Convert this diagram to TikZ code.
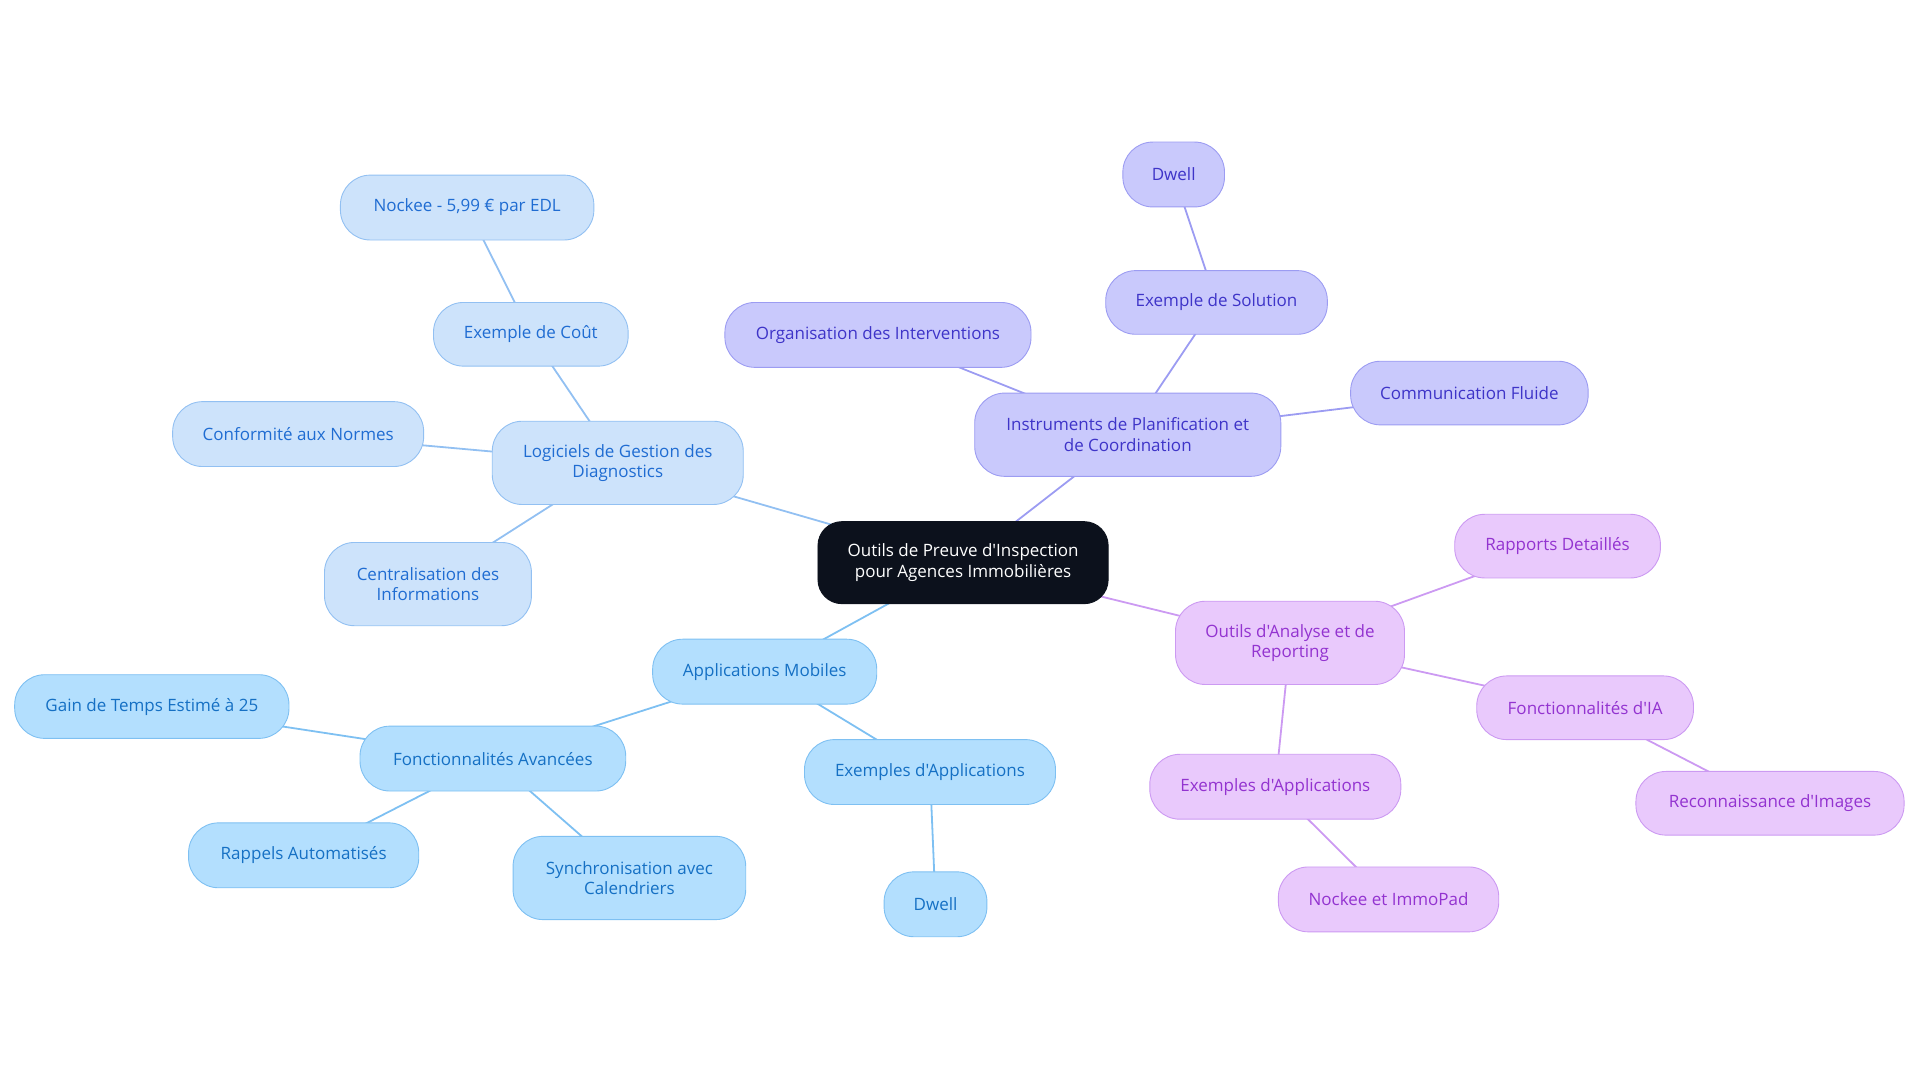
\documentclass[tikz,border=0pt]{standalone}
\usepackage{fontspec}
\setmainfont{Open Sans}[Ligatures=TeXOff]
\usetikzlibrary{backgrounds}
\begin{document}
\begin{tikzpicture}[x=1.2245pt,y=-1.2245pt,
  base/.style={rounded corners=30pt, draw, line width=0.9pt, align=center, inner sep=0pt, font=\fontsize{17}{20.5}\selectfont},
  sz/.style 2 args={minimum width=#1*1.2245pt, minimum height=#2*1.2245pt},
  root/.style={base, fill=rootc, draw=rootc, text=white, rounded corners=24pt},
  lb/.style={base, fill=lbfill, draw=lbline, text=lbtext},
  ab/.style={base, fill=abfill, draw=abline, text=abtext},
  pb/.style={base, fill=pbfill, draw=pbline, text=pbtext},
  pu/.style={base, fill=pufill, draw=puline, text=putext},
  lbe/.style={draw=lbline, line width=1.8pt},
  abe/.style={draw=abline, line width=1.8pt},
  pbe/.style={draw=pbline, line width=1.8pt},
  pue/.style={draw=puline, line width=1.8pt}]
\definecolor{rootc}{HTML}{0C111C}
\definecolor{lbfill}{HTML}{CDE3FB}
\definecolor{lbline}{HTML}{92C0F2}
\definecolor{lbtext}{HTML}{1F6CD2}
\definecolor{abfill}{HTML}{B3DFFE}
\definecolor{abline}{HTML}{7EC0F2}
\definecolor{abtext}{HTML}{1570C4}
\definecolor{pbfill}{HTML}{C9C9FC}
\definecolor{pbline}{HTML}{9C9CF2}
\definecolor{pbtext}{HTML}{3E34C8}
\definecolor{pufill}{HTML}{E9C9FC}
\definecolor{puline}{HTML}{CC9AF2}
\definecolor{putext}{HTML}{9333D0}
\path[use as bounding box] (0,0) rectangle (1568,884);

\node[root, sz={237}{67}] (r) at (786.5,459.5) {Outils de Preuve d'Inspection\\pour Agences Immobilières};

\node[lb, sz={205}{68}] (log) at (504.5,378) {Logiciels de Gestion des\\Diagnostics};
\node[lb, sz={159}{52}] (cout) at (433.5,273) {Exemple de Coût};
\node[lb, sz={207}{53}] (nock) at (381.5,169.5) {Nockee - 5,99 € par EDL};
\node[lb, sz={205}{53}] (conf) at (243.5,354.5) {Conformité aux Normes};
\node[lb, sz={169}{68}] (cent) at (349.5,477) {Centralisation des\\Informations};

\node[pb, sz={250}{68}] (inst) at (921,355) {Instruments de Planification et\\de Coordination};
\node[pb, sz={250}{53}] (org) at (717,273.5) {Organisation des Interventions};
\node[pb, sz={181}{52}] (sol) at (993.5,247) {Exemple de Solution};
\node[pb, sz={83}{53}] (dw1) at (958.5,142.5) {Dwell};
\node[pb, sz={194}{52}] (comm) at (1200,321) {Communication Fluide};

\node[pu, sz={187}{68}] (ana) at (1053.5,525) {Outils d'Analyse et de\\Reporting};
\node[pu, sz={168}{52}] (rap) at (1272,446) {Rapports Detaillés};
\node[pu, sz={177}{52}] (ia) at (1294.5,578) {Fonctionnalités d'IA};
\node[pu, sz={219}{52}] (rec) at (1445.5,656) {Reconnaissance d'Images};
\node[pu, sz={205}{53}] (exa) at (1041.5,642.5) {Exemples d'Applications};
\node[pu, sz={180}{53}] (imm) at (1134,734.5) {Nockee et ImmoPad};

\node[ab, sz={183}{53}] (app) at (624.5,548.5) {Applications Mobiles};
\node[ab, sz={217}{53}] (fav) at (402.5,619.5) {Fonctionnalités Avancées};
\node[ab, sz={224}{52}] (gain) at (124,577) {Gain de Temps Estimé à 25};
\node[ab, sz={188}{53}] (rapp) at (248,698.5) {Rappels Automatisés};
\node[ab, sz={190}{68}] (sync) at (514,717) {Synchronisation avec\\Calendriers};
\node[ab, sz={205}{53}] (exb) at (759.5,630.5) {Exemples d'Applications};
\node[ab, sz={84}{53}] (dw2) at (764,738.5) {Dwell};

\begin{scope}[on background layer]
\draw[lbe] (r.center) -- (log.center);
\draw[lbe] (log.center) -- (cout.center);
\draw[lbe] (cout.center) -- (nock.center);
\draw[lbe] (log.center) -- (conf.center);
\draw[lbe] (log.center) -- (cent.center);
\draw[pbe] (r.center) -- (inst.center);
\draw[pbe] (inst.center) -- (org.center);
\draw[pbe] (inst.center) -- (sol.center);
\draw[pbe] (sol.center) -- (dw1.center);
\draw[pbe] (inst.center) -- (comm.center);
\draw[pue] (r.center) -- (ana.center);
\draw[pue] (ana.center) -- (rap.center);
\draw[pue] (ana.center) -- (ia.center);
\draw[pue] (ia.center) -- (rec.center);
\draw[pue] (ana.center) -- (exa.center);
\draw[pue] (exa.center) -- (imm.center);
\draw[abe] (r.center) -- (app.center);
\draw[abe] (app.center) -- (fav.center);
\draw[abe] (fav.center) -- (gain.center);
\draw[abe] (fav.center) -- (rapp.center);
\draw[abe] (fav.center) -- (sync.center);
\draw[abe] (app.center) -- (exb.center);
\draw[abe] (exb.center) -- (dw2.center);
\end{scope}
\end{tikzpicture}
\end{document}
